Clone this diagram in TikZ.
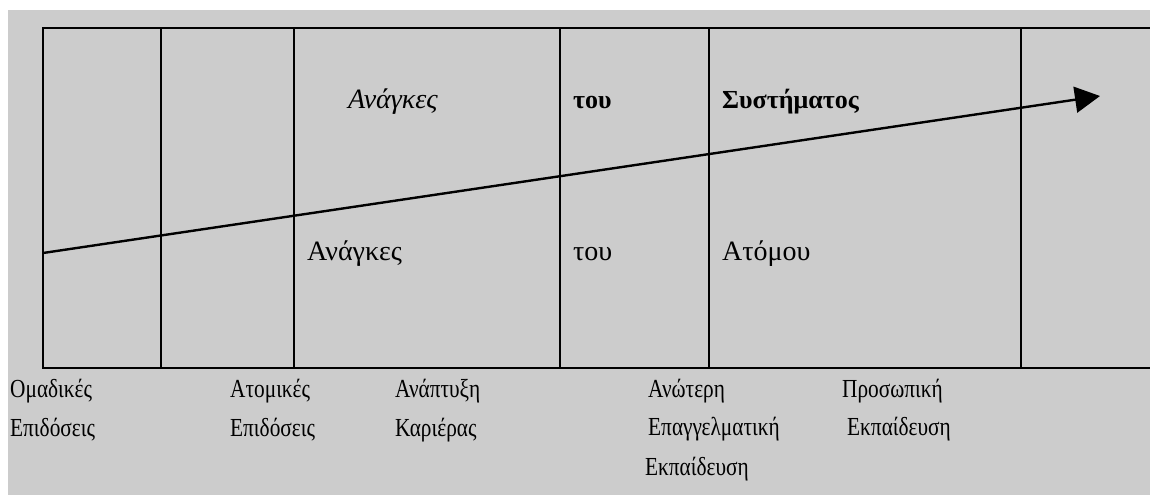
\documentclass[tikz,border=0pt]{standalone}
\usepackage{fontspec}
\setmainfont{Liberation Serif}
\usetikzlibrary{arrows.meta}

\definecolor{bggray}{RGB}{204,204,204}

\newcommand{\narrow}[1]{\scalebox{0.82}[1]{#1}}

\tikzset{
  gridline/.style={black, line width=2.4pt},
  rowlabel/.style={anchor=base west, inner sep=0pt, font=\fontsize{28}{32}\selectfont},
  toplabel/.style={anchor=base west, inner sep=0pt, font=\fontsize{26}{30}\selectfont\bfseries},
  steplabel/.style={anchor=base west, inner sep=0pt, font=\fontsize{26}{30}\selectfont},
}

\begin{document}
\begin{tikzpicture}[x=1pt, y=-1pt]

  \def\topy{28}
  \def\boty{368}

  % Canvas
  \useasboundingbox (0,0) rectangle (1150,495);
  \fill[white] (0,0) rectangle (1150,495);
  \fill[bggray] (8,10) rectangle (1150,495);

  % Frame, open on the right
  \draw[gridline] (1150,\topy) -- (43,\topy) -- (43,\boty) -- (1150,\boty);

  % Column separators
  \foreach \xx in {161,294,560,709,1021}{
    \draw[gridline] (\xx,\topy) -- (\xx,\boty);
  }

  % Rising arrow
  \coordinate (arrowstart) at (43,253);
  \coordinate (arrowtip) at (1100,96);
  \draw[line width=2.4pt, -{Triangle[length=25pt, width=26pt]}] (arrowstart) -- (arrowtip);

  % Upper row
  \node[rowlabel, font=\fontsize{28}{32}\selectfont\itshape] (needsys) at (348,108) {Ανάγκες};
  \node[toplabel] (ofsys) at (573,108) {του};
  \node[toplabel] (system) at (722,108) {Συστήματος};

  % Lower row
  \node[rowlabel] (needind) at (307,260) {Ανάγκες};
  \node[rowlabel] (ofind) at (573,260) {του};
  \node[rowlabel] (individual) at (722,260) {Ατόμου};

  % Labels under the frame
  \node[steplabel] (groupa) at (10,397) {\narrow{Ομαδικές}};
  \node[steplabel] (groupb) at (10,436) {\narrow{Επιδόσεις}};
  \node[steplabel] (indiva) at (230,397) {\narrow{Ατομικές}};
  \node[steplabel] (indivb) at (230,436) {\narrow{Επιδόσεις}};
  \node[steplabel] (careera) at (395,397) {\narrow{Ανάπτυξη}};
  \node[steplabel] (careerb) at (395,436) {\narrow{Καριέρας}};
  \node[steplabel] (highera) at (648,397) {\narrow{Ανώτερη}};
  \node[steplabel] (higherb) at (648,435) {\narrow{Επαγγελματική}};
  \node[steplabel] (higherc) at (645,475) {\narrow{Εκπαίδευση}};
  \node[steplabel] (persona) at (842,397) {\narrow{Προσωπική}};
  \node[steplabel] (personb) at (847,435) {\narrow{Εκπαίδευση}};

\end{tikzpicture}
\end{document}
